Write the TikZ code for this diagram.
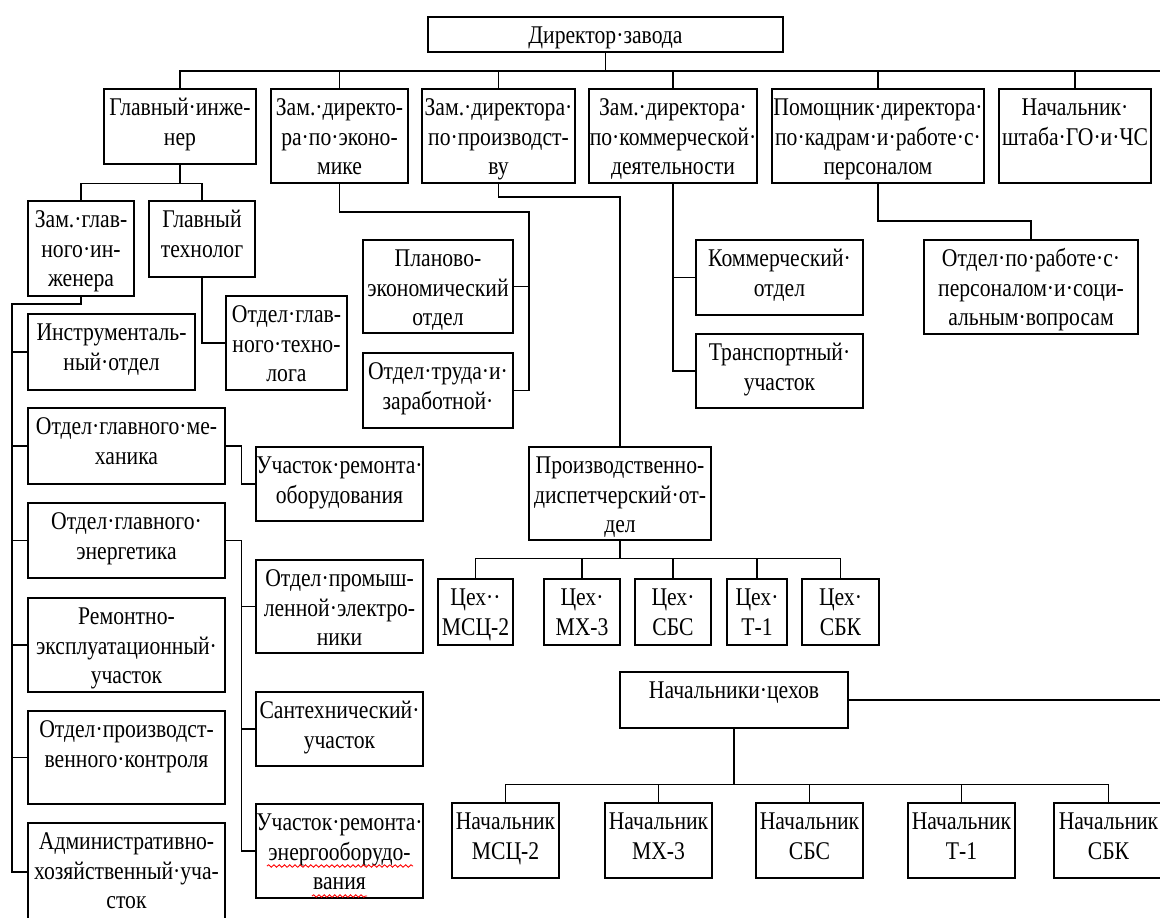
\documentclass[tikz,border=0pt]{standalone}
\usepackage{fontspec}
\setmainfont{Liberation Serif}[FakeStretch=0.85]
\usetikzlibrary{fit, decorations.pathmorphing}

\tikzset{
  unit/.style={draw, inner sep=0pt},
  lbl/.style={anchor=north, align=center, inner sep=0pt,
    font=\fontsize{14.5pt}{17pt}\selectfont},
  spell/.style={red, line width=0.5pt, decorate,
    decoration={snake, amplitude=0.7pt, segment length=3pt}},
}
% box from two corners, text set at its top
\newcommand{\orgbox}[4]{%
  \node[unit, fit={#2 #3}] (#1) {};
  \node[lbl] (#1-t) at ([yshift=-3pt]#1.north) {\strut #4};}

\begin{document}
\begin{tikzpicture}[x=0.02cm, y=-0.02cm, line width=0.8pt]
  \useasboundingbox[fill=white] (0,0) rectangle (1160,917);

  % director and deputies
  \orgbox{dir}{(428,17)}{(783,52)}{Директор·завода}
  \orgbox{gi}{(104,89)}{(256,164)}{Главный·инже-\\нер}
  \orgbox{ek}{(271,89)}{(408,183)}{Зам.·директо-\\ра·по·эконо-\\мике}
  \orgbox{pr}{(422,89)}{(575,183)}{Зам.·директора·\\по·производст-\\ву}
  \orgbox{km}{(589,89)}{(757,183)}{Зам.·директора·\\по·коммерческой·\\деятельности}
  \orgbox{pom}{(772,89)}{(984,183)}{Помощник·директора·\\по·кадрам·и·работе·с·\\персоналом}
  \orgbox{sh}{(999,89)}{(1151,183)}{Начальник·\\штаба·ГО·и·ЧС}

  % chief engineer branch
  \orgbox{zgi}{(28,201)}{(134,296)}{Зам.·глав-\\ного·ин-\\женера}
  \orgbox{gt}{(149,201)}{(255,277)}{Главный\\технолог}
  \orgbox{ogt}{(226,296)}{(347,390)}{Отдел·глав-\\ного·техно-\\лога}
  \orgbox{instr}{(28,314)}{(195,390)}{Инструменталь-\\ный·отдел}
  \orgbox{mech}{(28,408)}{(225,484)}{Отдел·главного·ме-\\ханика}
  \orgbox{energ}{(28,503)}{(225,578)}{Отдел·главного·\\энергетика}
  \orgbox{rem}{(28,598)}{(225,692)}{Ремонтно-\\эксплуатационный·\\участок}
  \orgbox{kontr}{(28,711)}{(225,804)}{Отдел·производст-\\венного·контроля}
  \orgbox{adm}{(28,823)}{(225,921)}{Административно-\\хозяйственный·уча-\\сток}
  \orgbox{uro}{(256,447)}{(423,521)}{Участок·ремонта·\\оборудования}
  \orgbox{ope}{(256,560)}{(423,653)}{Отдел·промыш-\\ленной·электро-\\ники}
  \orgbox{san}{(256,692)}{(423,766)}{Сантехнический·\\участок}
  \orgbox{ure}{(256,804)}{(423,898)}{Участок·ремонта·\\энергооборудо-\\вания}
  \draw[spell] (267,866) -- (413,866);
  \draw[spell] (312,896) -- (367,896);

  % economy and production
  \orgbox{plan}{(363,240)}{(513,333)}{Планово-\\экономический\\отдел}
  \orgbox{trud}{(363,353)}{(513,428)}{Отдел·труда·и·\\заработной·}
  \orgbox{pdo}{(529,447)}{(711,540)}{Производственно-\\диспетчерский·от-\\дел}
  \orgbox{c1}{(438,579)}{(513,645)}{Цех··\\МСЦ-2}
  \orgbox{c2}{(544,579)}{(620,645)}{Цех·\\МХ-3}
  \orgbox{c3}{(635,579)}{(711,645)}{Цех·\\СБС}
  \orgbox{c4}{(727,579)}{(787,645)}{Цех·\\Т-1}
  \orgbox{c5}{(802,579)}{(879,645)}{Цех·\\СБК}
  \orgbox{nc}{(620,672)}{(848,728)}{Начальники·цехов}
  \orgbox{n1}{(452,803)}{(559,878)}{Начальник\\МСЦ-2}
  \orgbox{n2}{(605,803)}{(712,878)}{Начальник\\МХ-3}
  \orgbox{n3}{(756,803)}{(863,878)}{Начальник\\СБС}
  \orgbox{n4}{(908,803)}{(1015,878)}{Начальник\\Т-1}
  \orgbox{n5}{(1054,803)}{(1163,878)}{Начальник\\СБК}

  % commerce and personnel
  \orgbox{kotd}{(696,240)}{(863,315)}{Коммерческий·\\отдел}
  \orgbox{trans}{(696,334)}{(863,408)}{Транспортный·\\участок}
  \orgbox{otp}{(924,240)}{(1138,334)}{Отдел·по·работе·с·\\персоналом·и·соци-\\альным·вопросам}

  % connectors
  \coordinate (busend) at (1160,71);
  \draw (dir.south) -- (dir.south |- busend);
  \draw (gi.north) |- (busend);
  \foreach \b in {ek, pr, km, pom, sh}
    \draw (\b.north) -- (\b.north |- busend);
  \draw[line width=1.6pt] (dir.south |- busend) -- (sh.north |- busend);

  \draw (gi.south) -- ++(0,19) coordinate (gi-j);
  \draw (zgi.north) |- (gi-j) -| (gt.north);
  \coordinate (rail) at (12,304);
  \draw (zgi.south) |- (rail) |- (adm.west);
  \foreach \b in {instr, mech, energ, rem, kontr}
    \draw (rail |- \b.west) -- (\b.west);
  \draw (gt.south) |- (ogt.west);
  \draw (mech.east) -- ++(16,0) |- (uro.west);
  \draw (energ.east) -- ++(16,0) coordinate (en-j) |- (ure.west);
  \foreach \b in {ope, san}
    \draw (en-j |- \b.west) -- (\b.west);

  \coordinate (ek-j) at (529,212);
  \draw (ek.south) |- (ek-j) |- (trud.east);
  \draw (ek-j |- plan.east) -- (plan.east);

  \draw (pr.south) |- (pdo.north |- 0,197) -- (pdo.north);
  \draw (pdo.south) -- ++(0,18) coordinate (pdo-j);
  \draw (c1.north) |- (pdo-j) -| (c5.north);
  \foreach \b in {c2, c3, c4}
    \draw (\b.north) -- (\b.north |- pdo-j);

  \coordinate (nc-end) at (1160,700);
  \draw (nc.east) -- (nc-end);
  \draw (nc.south) -- ++(0,56) coordinate (nc-j);
  \draw (n1.north) |- (nc-j) -| (n5.north);
  \foreach \b in {n2, n3, n4}
    \draw (\b.north) -- (\b.north |- nc-j);

  \draw (km.south) |- (trans.west);
  \draw (km.south |- kotd.west) -- (kotd.west);
  \draw (pom.south) |- (otp.north |- 0,221) -- (otp.north);
\end{tikzpicture}
\end{document}
